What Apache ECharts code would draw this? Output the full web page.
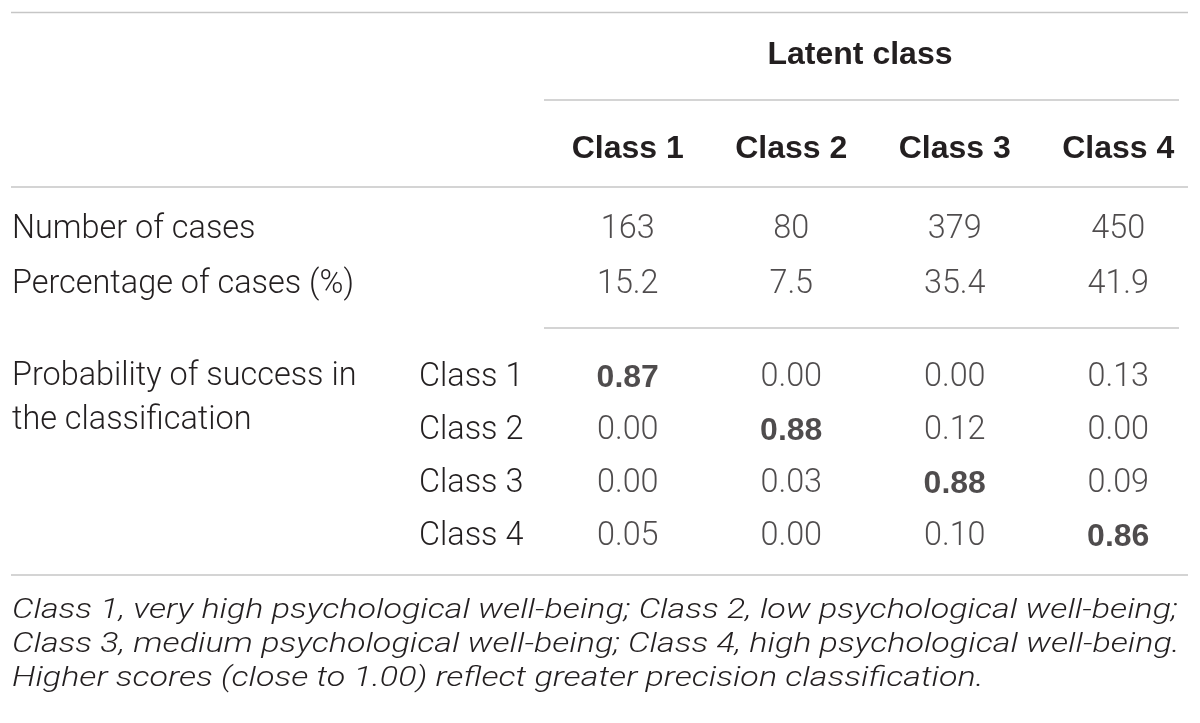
<!DOCTYPE html>
<html><head><meta charset="utf-8">
<script src="https://cdn.jsdelivr.net/npm/echarts@6/dist/echarts.min.js"></script>
<style>html,body{margin:0;padding:0;background:#fff}#c{width:1200px;height:723px}</style>
</head><body><div id="c"></div>
<script>
// ---- data ----
const headerTitle = 'Latent class';
const columns = ['Class 1', 'Class 2', 'Class 3', 'Class 4'];
const summaryRows = ['Number of cases', 'Percentage of cases (%)'];
const numberOfCases = [163, 80, 379, 450];
const percentageOfCases = [15.2, 7.5, 35.4, 41.9];
const probBlockLabel = 'Probability of success in\nthe classification';
const probRows = ['Class 1', 'Class 2', 'Class 3', 'Class 4'];
const probClass1 = [0.87, 0.00, 0.00, 0.13];
const probClass2 = [0.00, 0.88, 0.12, 0.00];
const probClass3 = [0.00, 0.03, 0.88, 0.09];
const probClass4 = [0.05, 0.00, 0.10, 0.86];
const footnoteLines = [
  'Class 1, very high psychological well-being; Class 2, low psychological well-being;',
  'Class 3, medium psychological well-being; Class 4, high psychological well-being.',
  'Higher scores (close to 1.00) reflect greater precision classification.'
];

// ---- build ----
const FONT = 'Roboto';
const BOLD_FONT = '"Liberation Sans", Arial, sans-serif';
const TXT = '#231f20';
const RULE = '#c6c6c6';
const FS = 32.4;
const BFS = 32;

const summaryData = [];
numberOfCases.forEach((v, i) => summaryData.push({ value: [i, 0], label: { formatter: String(v) } }));
percentageOfCases.forEach((v, i) => summaryData.push({ value: [i, 1], label: { formatter: v.toFixed(1) } }));

const probMatrix = [probClass1, probClass2, probClass3, probClass4];
const probData = [];
probMatrix.forEach((row, r) => {
  const mx = Math.max(...row);
  row.forEach((v, c) => {
    const best = v === mx;
    probData.push({
      value: [c, r],
      label: best
        ? { formatter: v.toFixed(2), fontFamily: BOLD_FONT, fontWeight: 'bold', fontSize: BFS }
        : { formatter: v.toFixed(2) }
    });
  });
});

const chart = echarts.init(document.getElementById('c'), null, { renderer: 'canvas' });
const gridLeft = 546, gridWidth = 656;

function hline(x1, x2, y) {
  return { type: 'line', shape: { x1, y1: y, x2, y2: y }, style: { stroke: RULE, lineWidth: 1.6 }, silent: true };
}

chart.setOption({
  animation: false,
  backgroundColor: '#fff',
  textStyle: { fontFamily: FONT },
  grid: [
    { left: gridLeft, width: gridWidth, top: 202.5, height: 110 },
    { left: gridLeft, width: gridWidth, top: 351.5, height: 212 }
  ],
  xAxis: [
    {
      gridIndex: 0, type: 'category', data: columns, position: 'top',
      axisLine: { show: false }, axisTick: { show: false }, splitLine: { show: false },
      axisLabel: { fontFamily: BOLD_FONT, fontSize: BFS, fontWeight: 'bold', color: TXT, margin: 53, verticalAlign: 'middle' },
      name: headerTitle, nameLocation: 'middle', nameGap: 147,
      nameTextStyle: { fontFamily: BOLD_FONT, fontSize: BFS, fontWeight: 'bold', color: TXT, verticalAlign: 'middle', padding: [0, 26, 0, 0] }
    },
    {
      gridIndex: 1, type: 'category', data: columns, show: false
    }
  ],
  yAxis: [
    {
      gridIndex: 0, type: 'category', data: summaryRows, inverse: true,
      axisLine: { show: false }, axisTick: { show: false }, splitLine: { show: false },
      axisLabel: { fontFamily: FONT, fontSize: FS, fontWeight: 300, color: TXT, align: 'left', margin: gridLeft - 12 }
    },
    {
      gridIndex: 1, type: 'category', data: probRows, inverse: true,
      axisLine: { show: false }, axisTick: { show: false }, splitLine: { show: false },
      axisLabel: { fontFamily: FONT, fontSize: FS, fontWeight: 300, color: TXT, align: 'left', margin: gridLeft - 419 }
    }
  ],
  series: [
    {
      type: 'scatter', xAxisIndex: 0, yAxisIndex: 0, symbolSize: 0, data: summaryData,
      label: { show: true, position: 'inside', fontFamily: FONT, fontSize: FS, fontWeight: 300, color: TXT }
    },
    {
      type: 'scatter', xAxisIndex: 1, yAxisIndex: 1, symbolSize: 0, data: probData,
      label: { show: true, position: 'inside', fontFamily: FONT, fontSize: FS, fontWeight: 300, color: TXT }
    }
  ],
  graphic: [
    hline(11, 1188, 12.5),
    hline(544, 1179, 100),
    hline(11, 1188, 187),
    hline(544, 1179, 328),
    hline(11, 1188, 575),
    {
      type: 'text', left: 12, top: 355, silent: true,
      style: { text: probBlockLabel, font: `300 ${FS}px ${FONT}`, fill: TXT, lineHeight: 44 }
    },
    {
      type: 'text', left: 12, top: 594, silent: true, scaleX: 1.217, scaleY: 1,
      style: { text: footnoteLines.join('\n'), font: `italic 300 28px ${FONT}`, fill: TXT, lineHeight: 34 }
    }
  ]
});
</script>
</body></html>
